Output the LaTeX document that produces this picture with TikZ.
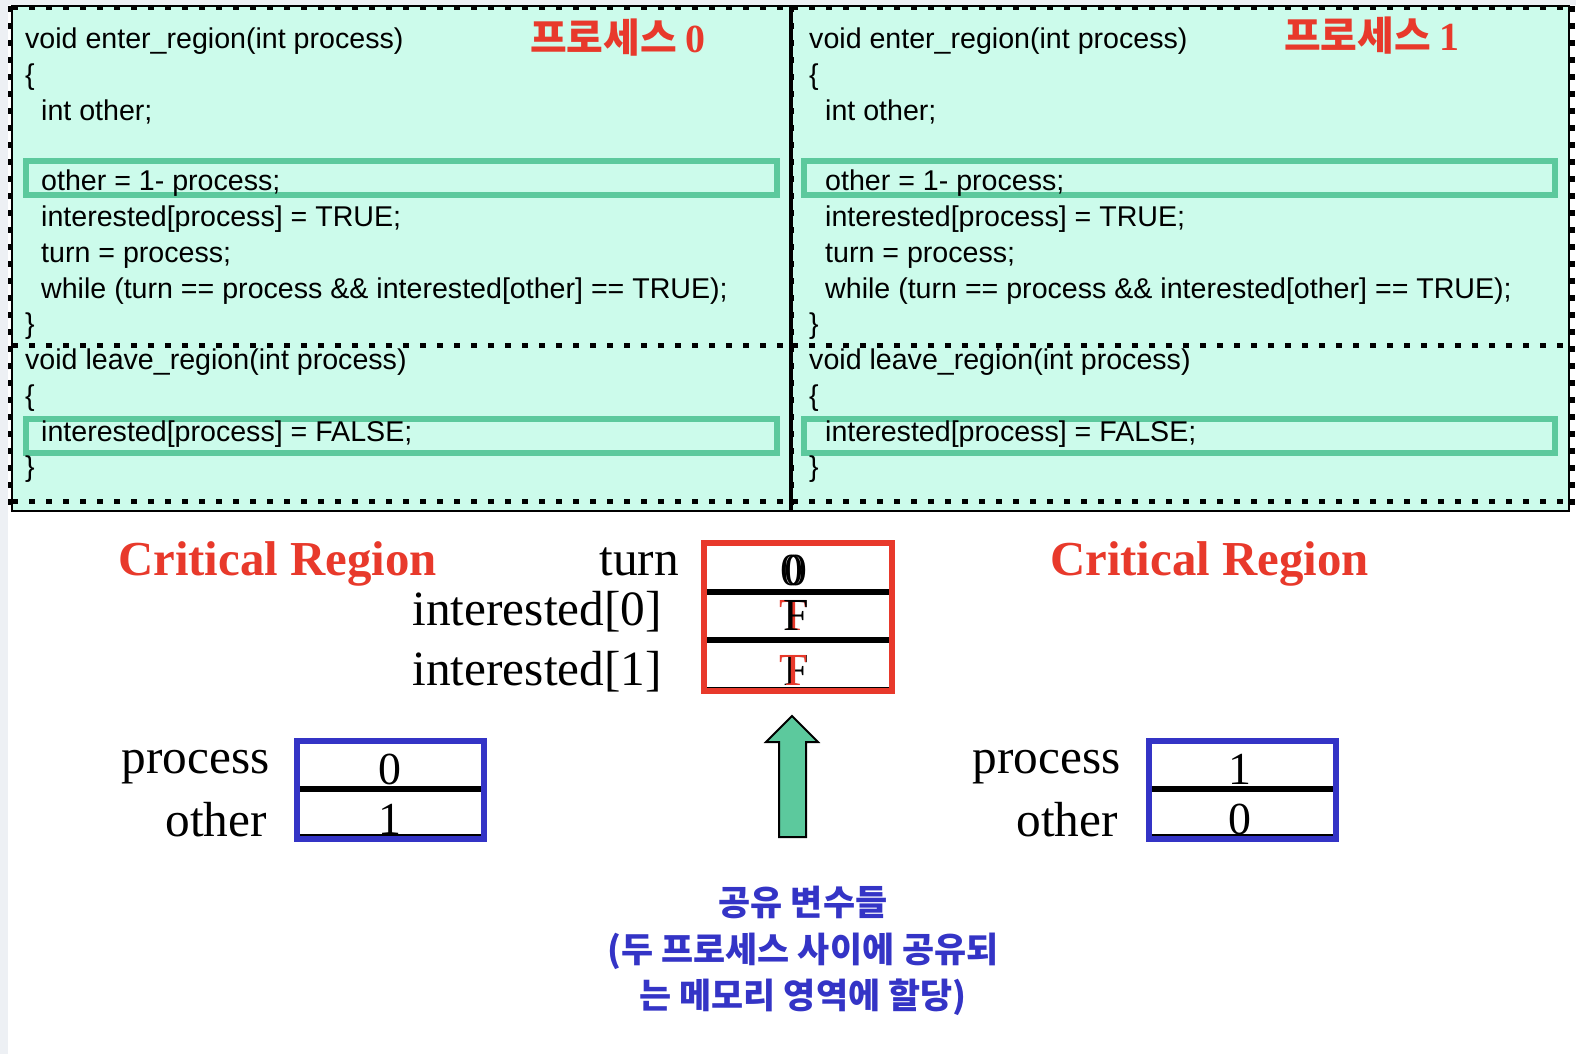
\documentclass[tikz,border=0pt]{standalone}
\usepackage{fontspec}
\setmainfont{Liberation Serif}
\newfontfamily\arial{Liberation Sans}
\newfontfamily\kr{Noto Sans CJK KR}
\definecolor{mint}{HTML}{CCFBEB}
\definecolor{hl}{HTML}{5CC99D}
\definecolor{redc}{HTML}{E8392B}
\definecolor{bluec}{HTML}{3434C6}
\definecolor{strip}{HTML}{EDF0F4}
\newcommand\codetext[2]{%
  \node[code] (#2a) at (#1+25,48)  {void enter\_region(int process)};
  \node[code] (#2b) at (#1+25,84)  {\{};
  \node[code] (#2c) at (#1+41,120) {int other;};
  \node[code] (#2d) at (#1+41,190) {other = 1- process;};
  \node[code] (#2e) at (#1+41,226) {interested[process] = TRUE;};
  \node[code] (#2f) at (#1+41,262) {turn = process;};
  \node[code] (#2g) at (#1+41,298) {while (turn == process \&\& interested[other] == TRUE);};
  \node[code] (#2h) at (#1+25,333) {\}};
  \node[code] (#2i) at (#1+25,369) {void leave\_region(int process)};
  \node[code] (#2j) at (#1+25,405) {\{};
  \node[code] (#2k) at (#1+41,441) {interested[process] = FALSE;};
  \node[code] (#2l) at (#1+25,476) {\}};
}
\begin{document}
\begin{tikzpicture}[x=1bp,y=-1bp,
  code/.style={anchor=base west,inner sep=0pt,font=\arial\fontsize{28.7}{32}\selectfont},
  ttl/.style={anchor=base west,inner sep=0pt,text=redc,font=\kr\bfseries\fontsize{40}{44}\selectfont},
  crit/.style={anchor=base west,inner sep=0pt,text=redc,font=\bfseries\fontsize{49}{54}\selectfont},
  lab/.style={anchor=base east,inner sep=0pt,font=\fontsize{49.5}{54}\selectfont},
  val/.style={anchor=base,inner sep=0pt,font=\fontsize{46}{50}\selectfont},
  dsh/.style={line width=5bp,dash pattern=on 6bp off 11bp},
  frame/.style={line width=1.5bp},
  hlbox/.style={draw=hl,line width=6bp},
  cell/.style={line width=6bp},
  kor/.style={anchor=base,inner sep=0pt,text=bluec,font=\kr\bfseries\fontsize{35}{40}\selectfont}
]
\useasboundingbox (0,0) rectangle (1576,1054);
\fill[white] (0,0) rectangle (1576,1054);
\fill[strip] (0,0) rectangle (8,1054);
\fill[strip] (0,0) rectangle (1576,5);

% code boxes
\fill[mint] (12,6) rectangle (790,511);
\fill[mint] (792,6) rectangle (1569,511);
\draw[frame] (12,6) rectangle (790,511);
\draw[frame] (792,6) rectangle (1569,511);
\draw[dsh] (12,7) -- (790,7);
\draw[dsh] (792,7) -- (1569,7);
\draw[dsh] (12,345) -- (790,345);
\draw[dsh] (792,345) -- (1569,345);
\draw[dsh] (12,501) -- (790,501);
\draw[dsh] (792,501) -- (1569,501);
\draw[dsh] (10,6) -- (10,511);
\draw[dsh] (791,6) -- (791,511);
\draw[dsh] (1572,6) -- (1572,511);

\draw[hlbox] (26,161) rectangle (777,195);
\draw[hlbox] (26,419) rectangle (777,453);
\draw[hlbox] (804,161) rectangle (1555,195);
\draw[hlbox] (804,419) rectangle (1555,453);

\codetext{0}{L}
\codetext{784}{R}

\node[ttl] (t0) at (530,52) {프로세스 \rmfamily 0};
\node[ttl] (t1) at (1284,50) {프로세스 \rmfamily 1};

% critical region labels
\node[crit] (cr0) at (118,575) {Critical Region};
\node[crit] (cr1) at (1050,575) {Critical Region};

% shared variables
\node[lab] (turnl) at (679,575) {turn};
\node[lab] (i0l) at (662,625) {interested[0]};
\node[lab] (i1l) at (662,685) {interested[1]};

\draw[cell] (707,592) -- (889,592);
\draw[cell] (707,640) -- (889,640);
\draw[line width=2bp] (707,688) -- (889,688);
\draw[draw=redc,line width=6bp] (704,543) rectangle (892,691);
\node[val] (tv0) at (792,585) {0};
\node[val] (tv1) at (796,585) {0};
\node[val,text=redc] (i0t) at (793,630) {T};
\node[val] (i0f) at (796,630) {F};
\node[val] (i1f) at (796,685) {F};
\node[val,text=redc] (i1t) at (793,685) {T};

% arrow
\draw[fill=hl,line width=2bp,line join=miter] (779,837) -- (779,742) -- (766,742) -- (792,716) -- (818,742) -- (806,742) -- (806,837) -- cycle;

% process boxes
\node[lab] (p0l) at (270,773) {process};
\node[lab] (o0l) at (267,836) {other};
\draw[cell] (300,789) -- (481,789);
\draw[line width=2bp] (300,835) -- (481,835);
\draw[draw=bluec,line width=6bp] (297,741) rectangle (484,839);
\node[val] (p0v) at (390,784) {0};
\node[val] (o0v) at (390,834) {1};

\node[lab] (p1l) at (1121,773) {process};
\node[lab] (o1l) at (1118,836) {other};
\draw[cell] (1152,789) -- (1333,789);
\draw[line width=2bp] (1152,835) -- (1333,835);
\draw[draw=bluec,line width=6bp] (1149,741) rectangle (1336,839);
\node[val] (p1v) at (1240,784) {1};
\node[val] (o1v) at (1240,834) {0};

\node[kor] (sh1) at (803,915) {공유 변수들};
\node[kor] (sh2) at (803,962) {(두 프로세스 사이에 공유되};
\node[kor] (sh3) at (803,1008) {는 메모리 영역에 할당)};
\end{tikzpicture}
\end{document}
